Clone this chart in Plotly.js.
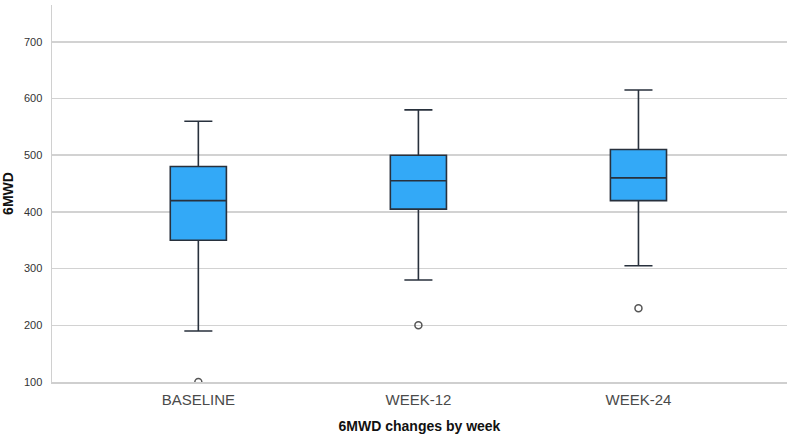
<!DOCTYPE html>
<html>
<head>
<meta charset="utf-8">
<script src="https://cdn.plot.ly/plotly-3.0.1.min.js"></script>
<style>html,body{margin:0;padding:0;background:#fff;}#chart{width:787px;height:436px;}</style>
</head>
<body>
<div id="chart"></div>
<script>
const categories = ["BASELINE", "WEEK-12", "WEEK-24"];
const lowerWhisker = [190, 280, 305];
const q1Values = [350, 405, 420];
const medianValues = [420, 455, 460];
const q3Values = [480, 500, 510];
const upperWhisker = [560, 580, 615];
const outlierCategories = ["BASELINE", "WEEK-12", "WEEK-24"];
const outlierValues = [100, 200, 230];
const yTickValues = [100, 200, 300, 400, 500, 600, 700];

const boxTrace = {
  type: "box",
  x: categories,
  q1: q1Values,
  median: medianValues,
  q3: q3Values,
  lowerfence: lowerWhisker,
  upperfence: upperWhisker,
  width: 0.255,
  whiskerwidth: 0.5,
  fillcolor: "#33a9f7",
  line: {color: "#28313d", width: 1.6},
  boxpoints: false,
  hoverinfo: "skip",
  showlegend: false
};

const outlierTrace = {
  type: "scatter",
  mode: "markers",
  x: outlierCategories,
  y: outlierValues,
  marker: {symbol: "circle-open", size: 7, color: "#555", line: {width: 1.5, color: "#555"}},
  cliponaxis: true,
  hoverinfo: "skip",
  showlegend: false
};

const layout = {
  width: 787,
  height: 436,
  margin: {l: 52, r: 0, t: 5, b: 54},
  paper_bgcolor: "#fff",
  plot_bgcolor: "#fff",
  font: {family: "Liberation Sans, Arial, sans-serif", color: "#333"},
  xaxis: {
    type: "category",
    range: [-0.665, 2.675],
    showgrid: false,
    zeroline: false,
    showline: true,
    linecolor: "#cfcfcf",
    linewidth: 1.5,
    ticks: "",
    tickfont: {size: 15, color: "#4a4a4a"},
    ticklabelstandoff: 3,
    title: {text: "6MWD changes by week", font: {size: 14, color: "#111", weight: "bold"}, standoff: 14}
  },
  yaxis: {
    range: [100, 765],
    tickvals: yTickValues,
    ticktext: yTickValues.map(String),
    showgrid: true,
    gridcolor: "#d2d2d2",
    gridwidth: 1.6,
    zeroline: false,
    showline: true,
    linecolor: "#d0d0d0",
    linewidth: 1.5,
    ticks: "",
    tickfont: {size: 11, color: "#333"},
    ticklabelstandoff: 6,
    title: {text: "6MWD", font: {size: 14, color: "#111", weight: "bold"}, standoff: 10}
  }
};

Plotly.newPlot("chart", [boxTrace, outlierTrace], layout, {staticPlot: true, displayModeBar: false});
</script>
</body>
</html>
